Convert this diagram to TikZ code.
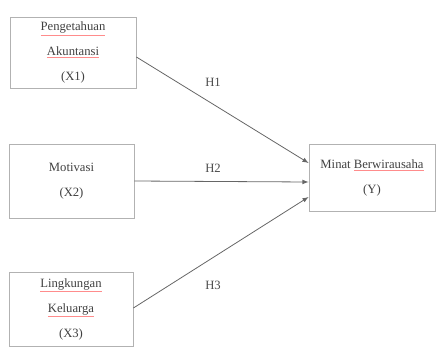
\documentclass[tikz,border=0pt]{standalone}
\usepackage{fontspec}
\setmainfont{Liberation Serif}
\newcommand{\salah}[1]{\textcolor{red!45}{$\underline{\hbox{\color{black!75}#1}}$}}
\tikzset{
  kotak/.style={draw=gray!60,line width=0.6pt,align=center,text=black!75},
  panah/.style={-latex,draw=black!60,line width=0.6pt},
  lbl/.style={text=black!70}
}
\begin{document}
\begin{tikzpicture}[x=0.75pt,y=-0.75pt,font=\fontsize{9.5}{18.75}\selectfont]
\useasboundingbox (0,0) rectangle (436,347);
\node[kotak,minimum width=126*0.75pt,minimum height=71*0.75pt](x1) at (73,52.5){\salah{Pengetahuan}\\\salah{Akuntansi}\\(X1)};
\node[kotak,minimum width=125*0.75pt,minimum height=74*0.75pt](x2) at (71.5,181){Motivasi\\(X2)};
\node[kotak,minimum width=124*0.75pt,minimum height=74*0.75pt](x3) at (71,309){\salah{Lingkungan}\\\salah{Keluarga}\\(X3)};
\node[kotak,minimum width=126*0.75pt,minimum height=67*0.75pt](y) at (372,177.5){Minat \salah{Berwirausaha}\\(Y)};
\coordinate (y1) at ([yshift=14.5*0.75pt]y.west);
\coordinate (y2) at ([yshift=-4.5*0.75pt]y.west);
\coordinate (y3) at ([yshift=-19.5*0.75pt]y.west);
\draw[panah]([yshift=-4.5*0.75pt]x1.east)--(y1);
\draw[panah](x2.east)--(y2);
\draw[panah]([yshift=1*0.75pt]x3.east)--(y3);
\node[lbl](h1) at (213,82){H1};
\node[lbl](h2) at (213,168){H2};
\node[lbl](h3) at (213,285){H3};
\end{tikzpicture}
\end{document}
